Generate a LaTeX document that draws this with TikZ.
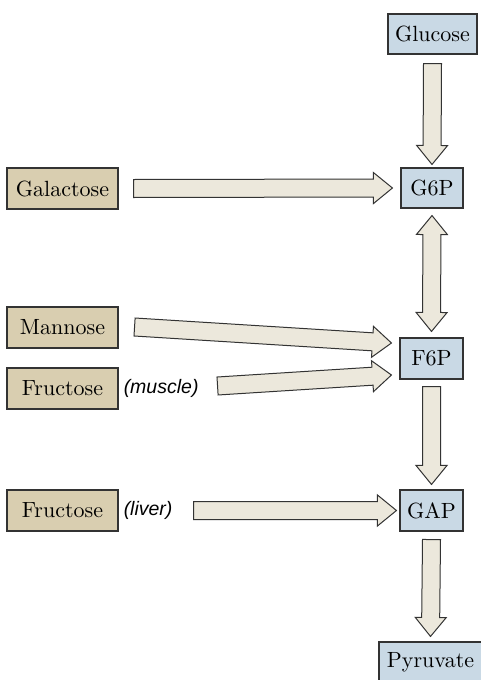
\documentclass[tikz,border=0pt]{standalone}
\usepackage{fontspec}
\newfontfamily\labelfont{Liberation Sans}
\newfontfamily\boxfont{lmroman10-regular.otf}
\usetikzlibrary{calc}
\definecolor{tanbox}{HTML}{D9CEB0}
\definecolor{bluebox}{HTML}{C9D9E5}
\definecolor{arrowfill}{HTML}{ECE8DC}
\definecolor{edgecol}{HTML}{333333}
\tikzset{
  box/.style={draw=edgecol, line width=1.1pt, inner sep=0pt, text=black, font=\boxfont\fontsize{22}{26}\selectfont},
  leftbox/.style={box, fill=tanbox, minimum width=111pt, minimum height=41pt},
  rightbox/.style={box, fill=bluebox, minimum height=40pt},
  fatarrowstyle/.style={draw=edgecol, fill=arrowfill, line width=1pt, line join=miter},
  tissue/.style={font=\labelfont\itshape\fontsize{19.5}{22}\selectfont, inner sep=0pt}
}
\newcommand{\sw}{9pt}
\newcommand{\hw}{15.5pt}
\newcommand{\hl}{19pt}
% single-headed fat arrow from coordinate #1 to coordinate #2
\newcommand{\fatarrow}[2]{%
  \coordinate (hb) at ($(#2)!\hl!(#1)$);
  \draw[fatarrowstyle] ($(#1)!\sw!90:(#2)$) -- ($(hb)!\sw!90:(#2)$) -- ($(hb)!\hw!90:(#2)$)
    -- (#2) -- ($(hb)!\hw!-90:(#2)$) -- ($(hb)!\sw!-90:(#2)$) -- ($(#1)!\sw!-90:(#2)$) -- cycle;
}
% double-headed fat arrow between #1 and #2
\newcommand{\fatdoublearrow}[2]{%
  \coordinate (hb) at ($(#2)!\hl!(#1)$);
  \coordinate (ha) at ($(#1)!\hl!(#2)$);
  \draw[fatarrowstyle] (#1) -- ($(ha)!\hw!-90:(#1)$) -- ($(ha)!\sw!-90:(#1)$)
    -- ($(hb)!\sw!90:(#2)$) -- ($(hb)!\hw!90:(#2)$) -- (#2)
    -- ($(hb)!\hw!-90:(#2)$) -- ($(hb)!\sw!-90:(#2)$)
    -- ($(ha)!\sw!90:(#1)$) -- ($(ha)!\hw!90:(#1)$) -- cycle;
}
\begin{document}
\begin{tikzpicture}[x=1pt, y=-1pt]
  \useasboundingbox (0,0) rectangle (481,680);
  \clip (0,0) rectangle (481,680);
  \fill[white] (0,0) rectangle (481,680);

  % right column (pathway)
  \node[rightbox, minimum width=89pt] (glucose) at (432.5,34) {Glucose};
  \node[rightbox, minimum width=62pt] (g6p) at (432,188) {G6P};
  \node[rightbox, minimum width=63pt, minimum height=41pt] (f6p) at (431.5,358.5) {F6P};
  \node[rightbox, minimum width=63pt, minimum height=41pt] (gap) at (431.5,510.5) {GAP};
  \node[rightbox, minimum width=103pt] (pyruvate) at (430.5,662) {Pyruvate};

  % left column (other sugars)
  \node[leftbox] (galactose) at (62.5,188.5) {Galactose};
  \node[leftbox] (mannose) at (62.5,327.5) {Mannose};
  \node[leftbox] (fructm) at (62.5,388.5) {Fructose};
  \node[leftbox] (fructl) at (62.5,510.5) {Fructose};

  \node[tissue, anchor=west] (muscle) at ($(fructm.east)+(5,0)$) {(muscle)};
  \node[tissue, anchor=west] (liver) at ($(fructl.east)+(5,0)$) {(liver)};

  % arrow end points
  \coordinate (a1s) at ($(glucose.south)+(0,9)$);
  \coordinate (a1e) at ($(g6p.north)+(0,-3)$);
  \coordinate (a2s) at ($(galactose.east)+(15,0)$);
  \coordinate (a2e) at ($(g6p.west)+(-8,0)$);
  \coordinate (a3s) at ($(g6p.south)+(0,7)$);
  \coordinate (a3e) at ($(f6p.north)+(0,-6)$);
  \coordinate (a4s) at ($(mannose.east)+(16,-0.5)$);
  \coordinate (a4e) at ($(f6p.west)+(-8,-15.5)$);
  \coordinate (a5s) at ($(fructm.east)+(99,-2.5)$);
  \coordinate (a5e) at ($(f6p.west)+(-8,16.5)$);
  \coordinate (a6s) at ($(f6p.south)+(0,7)$);
  \coordinate (a6e) at ($(gap.north)+(0,-5)$);
  \coordinate (a7s) at ($(fructl.east)+(75,0)$);
  \coordinate (a7e) at ($(gap.west)+(-3,0)$);
  \coordinate (a8s) at ($(gap.south)+(0,8)$);
  \coordinate (a8e) at ($(pyruvate.north)+(0,-5)$);

  \fatarrow{a1s}{a1e}
  \fatarrow{a2s}{a2e}
  \fatdoublearrow{a3s}{a3e}
  \fatarrow{a4s}{a4e}
  \fatarrow{a5s}{a5e}
  \fatarrow{a6s}{a6e}
  \fatarrow{a7s}{a7e}
  \fatarrow{a8s}{a8e}
\end{tikzpicture}
\end{document}
